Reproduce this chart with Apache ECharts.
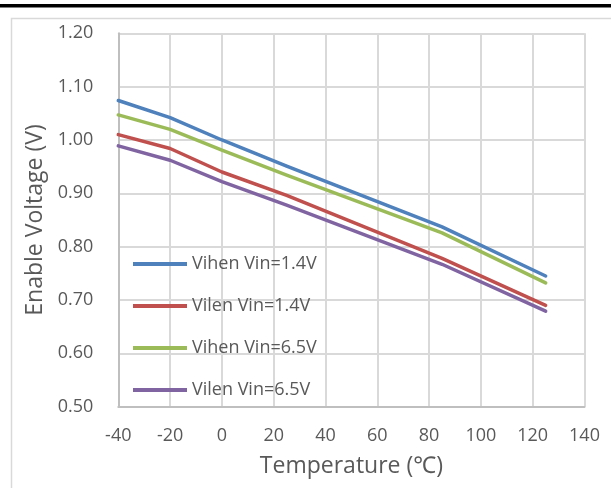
<!DOCTYPE html>
<html>
<head>
<meta charset="utf-8">
<script src="https://cdn.jsdelivr.net/npm/echarts@6/dist/echarts.min.js"></script>
<style>
  html, body { margin: 0; padding: 0; background: #fff; }
  #chart { width: 611px; height: 488px; }
</style>
</head>
<body>
<div id="chart"></div>
<script>
// Temperature points (°C)
var temps = [-40, -20, 0, 25, 85, 125];
// Enable thresholds (V)
var vihen14 = [1.074, 1.042, 1.000, 0.951, 0.837, 0.745];
var vilen14 = [1.010, 0.984, 0.940, 0.896, 0.778, 0.690];
var vihen65 = [1.047, 1.020, 0.981, 0.934, 0.826, 0.732];
var vilen65 = [0.989, 0.962, 0.922, 0.878, 0.767, 0.679];

var seriesNames = ['Vihen Vin=1.4V', 'Vilen Vin=1.4V', 'Vihen Vin=6.5V', 'Vilen Vin=6.5V'];
var seriesValues = [vihen14, vilen14, vihen65, vilen65];
var colors = ['#4F81BD', '#C0504D', '#9BBB59', '#8064A2'];

var xTicks = { min: -40, max: 140, interval: 20 };
var yTicks = { min: 0.5, max: 1.2, interval: 0.1 };

var font = '"Open Sans", "Noto Sans", sans-serif';
var textColor = '#595959';

function pairs(vals) {
  return temps.map(function (t, i) { return [t, vals[i]]; });
}

var chart = echarts.init(document.getElementById('chart'), null, { renderer: 'canvas' });

chart.setOption({
  animation: false,
  backgroundColor: '#ffffff',
  color: colors,
  graphic: [
    { type: 'rect', shape: { x: 0, y: 4, width: 611, height: 3.5 }, style: { fill: '#000000' }, silent: true },
    { type: 'rect', shape: { x: 11.5, y: 18.5, width: 640, height: 520 }, style: { fill: 'none', stroke: '#d9d9d9', lineWidth: 1.5 }, silent: true }
  ],
  grid: { left: 118.3, right: 26.5, top: 33.3, bottom: 81.3, containLabel: false },
  legend: {
    orient: 'vertical',
    left: 128,
    top: 250,
    itemGap: 24,
    itemWidth: 54,
    itemHeight: 4,
    icon: 'rect',
    backgroundColor: 'transparent',
    textStyle: { fontFamily: font, fontSize: 18, color: textColor, padding: [0, 0, 0, 0] },
    data: seriesNames
  },
  xAxis: {
    type: 'value',
    min: xTicks.min,
    max: xTicks.max,
    interval: xTicks.interval,
    name: 'Temperature (℃)',
    nameLocation: 'middle',
    nameGap: 48,
    nameTextStyle: { fontFamily: font, fontSize: 23, color: textColor },
    axisLine: { show: true, onZero: false, lineStyle: { color: '#bfbfbf', width: 2 } },
    axisTick: { show: false },
    axisLabel: { margin: 20, fontFamily: font, fontSize: 18, color: textColor },
    splitLine: { show: true, lineStyle: { color: '#d9d9d9', width: 2 } }
  },
  yAxis: {
    type: 'value',
    min: yTicks.min,
    max: yTicks.max,
    interval: yTicks.interval,
    name: 'Enable Voltage (V)',
    nameLocation: 'middle',
    nameGap: 67,
    nameRotate: 90,
    nameTextStyle: { fontFamily: font, fontSize: 23, color: textColor },
    axisLine: { show: true, onZero: false, lineStyle: { color: '#bfbfbf', width: 2 } },
    axisTick: { show: false },
    axisLabel: {
      margin: 25,
      fontFamily: font,
      fontSize: 18,
      color: textColor,
      formatter: function (v) { return v.toFixed(2); }
    },
    splitLine: { show: true, lineStyle: { color: '#d9d9d9', width: 2 } }
  },
  series: seriesNames.map(function (name, i) {
    return {
      name: name,
      type: 'line',
      data: pairs(seriesValues[i]),
      showSymbol: false,
      symbol: 'none',
      smooth: false,
      lineStyle: { width: 3.5, color: colors[i], cap: 'round', join: 'round' },
      itemStyle: { color: colors[i] }
    };
  })
});
</script>
</body>
</html>
